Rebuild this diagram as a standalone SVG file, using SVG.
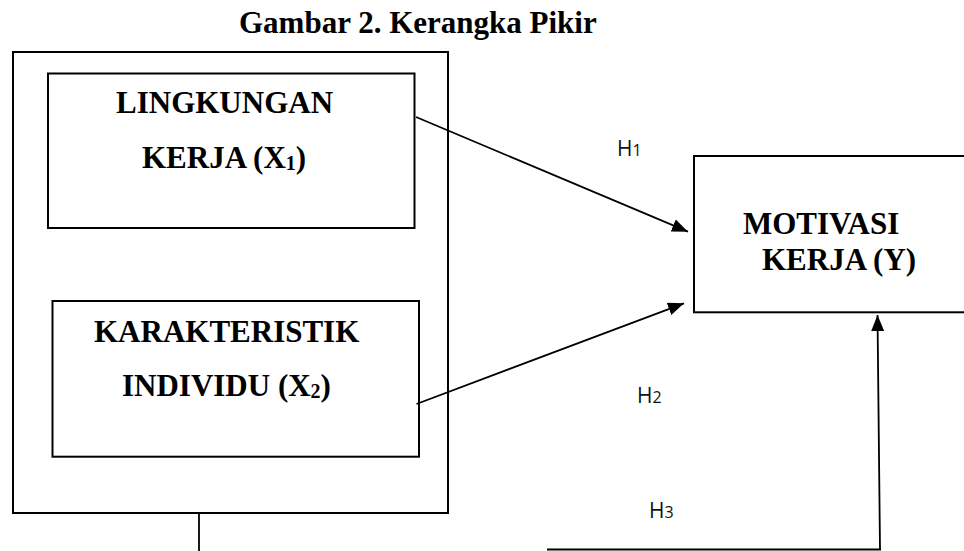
<svg xmlns="http://www.w3.org/2000/svg" width="964" height="551" viewBox="0 0 964 551">
<style>
.box{fill:none;stroke:#000;stroke-width:2}
.lbl{font-family:"Liberation Serif","Times New Roman",serif;font-weight:bold;font-size:31px;fill:#000}
.h{font-family:"Open Sans","Liberation Sans",sans-serif;font-size:21px;fill:#111}
.ln{stroke:#000;stroke-width:1.8;fill:none}
</style>
<defs>
<marker id="ah" markerUnits="userSpaceOnUse" markerWidth="18" markerHeight="14" refX="16" refY="6.5" orient="auto">
<path d="M0,0 L16,6.5 L0,13 z" fill="#000"/>
</marker>
</defs>
<rect width="964" height="551" fill="#fff"/>
<text class="lbl" x="239" y="33">Gambar 2. Kerangka Pikir</text>
<g id="outer">
<rect class="box" x="13" y="52" width="435" height="461"/>
</g>
<g id="x1">
<rect class="box" x="48" y="73.5" width="366.5" height="154.5"/>
<text class="lbl" x="116" y="113">LINGKUNGAN</text>
<text class="lbl" x="142" y="168">KERJA (X<tspan font-size="20" dy="2">1</tspan><tspan dy="-2">)</tspan></text>
</g>
<g id="x2">
<rect class="box" x="52.5" y="301" width="366.5" height="155.7"/>
<text class="lbl" x="94" y="341.5">KARAKTERISTIK</text>
<text class="lbl" x="122" y="396">INDIVIDU (X<tspan font-size="20" dy="2">2</tspan><tspan dy="-2">)</tspan></text>
</g>
<g id="y">
<rect class="box" x="694" y="156" width="275" height="156.3"/>
<text class="lbl" x="743" y="234">MOTIVASI</text>
<text class="lbl" x="762" y="270">KERJA (Y)</text>
</g>
<g id="connectors">
<line class="ln" x1="416" y1="117" x2="688" y2="231.7" marker-end="url(#ah)"/>
<line class="ln" x1="416.5" y1="404" x2="684" y2="303.3" marker-end="url(#ah)"/>
<line class="ln" x1="880" y1="549.5" x2="877.5" y2="315" marker-end="url(#ah)"/>
<line class="ln" x1="199" y1="513" x2="199" y2="551"/>
<line class="ln" x1="547" y1="549.5" x2="881" y2="549.5"/>
</g>
<g id="labels">
<text class="h" x="617" y="156">H<tspan font-size="16">1</tspan></text>
<text class="h" x="637" y="403">H<tspan font-size="16">2</tspan></text>
<text class="h" x="649" y="518">H<tspan font-size="16">3</tspan></text>
</g>
</svg>
